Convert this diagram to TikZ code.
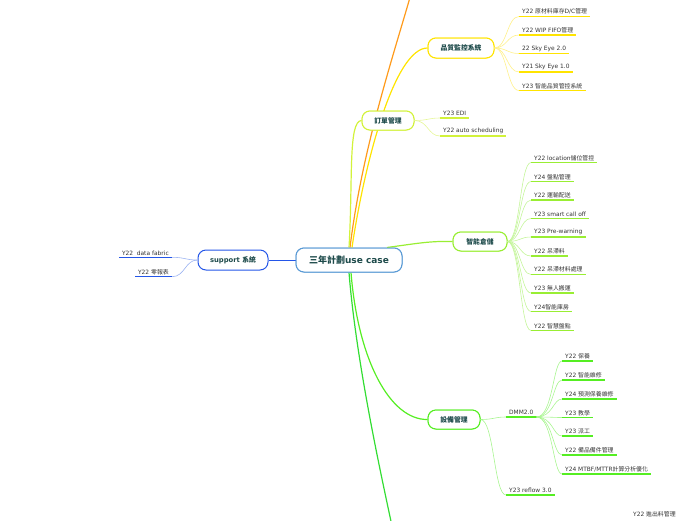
\documentclass[tikz,border=0pt]{standalone}
\usepackage{fontspec}
\setmainfont{DejaVu Sans}
\newfontfamily\cjk{Noto Sans CJK TC}
\newcommand\zh[1]{{\cjk #1}}
\definecolor{corange}{HTML}{FF9A1A}
\definecolor{cyel}{HTML}{FFE400}
\definecolor{cyelL}{HTML}{FFF08A}
\definecolor{cyg}{HTML}{D2F23A}
\definecolor{cygL}{HTML}{E6F79A}
\definecolor{clg}{HTML}{99EE33}
\definecolor{clgL}{HTML}{C4F59A}
\definecolor{cg}{HTML}{55EE22}
\definecolor{cgL}{HTML}{A8F590}
\definecolor{cbg}{HTML}{33DD33}
\definecolor{cblue}{HTML}{2456E8}
\definecolor{cblueL}{HTML}{9DB4F2}
\definecolor{ccen}{HTML}{5B9BD5}
\definecolor{txt}{HTML}{1E4B4B}
\definecolor{leaftxt}{HTML}{333333}
\tikzset{
  bnode/.style={draw, rounded corners=8pt, line width=1pt, fill=white,
    font=\bfseries\fontsize{6.8}{8}\selectfont, text=txt, inner sep=0pt},
  cnode/.style={draw=ccen, rounded corners=8pt, line width=1pt, fill=white, text=txt,
    font=\bfseries\fontsize{9}{11}\selectfont, minimum width=106pt, minimum height=24pt, inner sep=0pt},
  leaf/.style={font=\fontsize{5.9}{7}\selectfont, text=leaftxt, inner xsep=3pt, inner ysep=1.8pt},
  branch/.style={line width=1.2pt},
  twig/.style={line width=0.6pt},
  uline/.style={line width=1.5pt},
}
\begin{document}
\begin{tikzpicture}[x=1pt,y=-1pt]
\useasboundingbox (0,0) rectangle (696,520);

\coordinate (otop) at (411,-6);
\coordinate (gbot) at (392,526);

\node[cnode] (c) at (349,260) {\zh{三年計劃}use case};
\node[bnode, draw=cyel, minimum width=66pt, minimum height=20pt] (q) at (461,48) {\zh{品質監控系統}};
\node[bnode, draw=cyg, minimum width=52pt, minimum height=19pt] (o) at (388,120.5) {\zh{訂單管理}};
\node[bnode, draw=clg, minimum width=54pt, minimum height=19pt] (s) at (480,241.5) {\zh{智能倉儲}};
\node[bnode, draw=cg, minimum width=52pt, minimum height=19pt] (e) at (454,419.5) {\zh{設備管理}};
\node[bnode, draw=cblue, minimum width=70pt, minimum height=20pt] (sp) at (233,260) {support \zh{系統}};

\draw[corange, branch] ([xshift=1pt]c.north) .. controls (362,150) and (392,60) .. (otop);
\draw[cyel, branch] ([xshift=3pt]c.north) .. controls (365,160) and (395,48) .. (q.west);
\draw[cyg, branch] ([xshift=0pt]c.north) .. controls (353,180) and (348,121) .. (o.west);
\draw[clg, branch] ([xshift=38pt]c.north) .. controls (420,243) and (430,241) .. (s.west);
\draw[cg, branch] ([xshift=2pt]c.south) .. controls (358,360) and (390,420) .. (e.west);
\draw[cbg, branch] ([xshift=0pt]c.south) .. controls (356,360) and (380,470) .. (gbot);
\draw[cblue, line width=1pt] (c.west) -- (sp.east);

% nodes again on top of the branch lines
\node[cnode] at (c) {\zh{三年計劃}use case};
\node[bnode, draw=cyel, minimum width=66pt, minimum height=20pt] at (q) {\zh{品質監控系統}};
\node[bnode, draw=cyg, minimum width=52pt, minimum height=19pt] at (o) {\zh{訂單管理}};
\node[bnode, draw=clg, minimum width=54pt, minimum height=19pt] at (s) {\zh{智能倉儲}};
\node[bnode, draw=cg, minimum width=52pt, minimum height=19pt] at (e) {\zh{設備管理}};

% quality leaves
\foreach \y/\t/\n in {16.5/{Y22 \zh{原材料庫存}D/C\zh{管理}}/1,
                      35/{Y22 WIP FIFO\zh{管理}}/2,
                      53.5/{22 Sky Eye 2.0}/3,
                      72/{Y21 Sky Eye 1.0}/4,
                      90.5/{Y23 \zh{智能品質管控系統}}/5}{
  \node[leaf, anchor=south west] (q\n) at (519,\y) {\t};
  \draw[cyelL, twig] (q.east) .. controls (507,48) and (507,\y) .. (q\n.south west);
  \draw[cyel, uline] (q\n.south west) -- (q\n.south east);
}

% order leaves
\foreach \y/\t/\n in {118/{Y23 EDI}/1, 136/{Y22 auto scheduling}/2}{
  \node[leaf, anchor=south west] (o\n) at (440,\y) {\t};
  \draw[cygL, twig] (o.east) .. controls (428,120.5) and (428,\y) .. (o\n.south west);
  \draw[cyg, uline] (o\n.south west) -- (o\n.south east);
}

% warehouse leaves
\foreach \y/\t/\n in {162.5/{Y22 location\zh{儲位管控}}/1,
                      181.5/{Y24 \zh{盤點管理}}/2,
                      200/{Y22 \zh{運輸配送}}/3,
                      218.5/{Y23 smart call off}/4,
                      237/{Y23 Pre-warning}/5,
                      256/{Y22 \zh{呆滯料}}/6,
                      274.5/{Y22 \zh{呆滯材料處理}}/7,
                      293/{Y23 \zh{無人搬運}}/8,
                      311.5/{Y24\zh{智能庫房}}/9,
                      330.5/{Y22 \zh{智慧盤點}}/10}{
  \node[leaf, anchor=south west] (s\n) at (531,\y) {\t};
  \draw[clgL, twig] (s.east) .. controls (520,241.5) and (520,\y) .. (s\n.south west);
  \draw[clg, uline] (s\n.south west) -- (s\n.south east);
}

% equipment
\node[leaf, anchor=south west] (d) at (506,417) {DMM2.0};
\draw[cgL, twig] (e.east) .. controls (494,419.5) and (494,417) .. (d.south west);
\draw[cg, uline] (d.south west) -- (d.south east);
\node[leaf, anchor=south west] (r) at (506,495) {Y23 reflow 3.0};
\draw[cgL, twig] (e.east) .. controls (494,419.5) and (494,495) .. (r.south west);
\draw[cg, uline] (r.south west) -- (r.south east);

\foreach \y/\t/\n in {361/{Y22 \zh{保養}}/1,
                      380/{Y22 \zh{智能維修}}/2,
                      399/{Y24 \zh{預測保養維修}}/3,
                      417.5/{Y23 \zh{教學}}/4,
                      436/{Y23 \zh{派工}}/5,
                      455/{Y22 \zh{備品備件管理}}/6,
                      474/{Y24 MTBF/MTTR\zh{計算分析優化}}/7}{
  \node[leaf, anchor=south west] (d\n) at (562,\y) {\t};
  \draw[cgL, twig] (d.south east) .. controls (553,417) and (553,\y) .. (d\n.south west);
  \draw[cg, uline] (d\n.south west) -- (d\n.south east);
}

% support leaves
\node[leaf, anchor=south east] (p1) at (172,257.3) {Y22\ \ data fabric};
\node[leaf, anchor=south east] (p2) at (172,276.7) {Y22 \zh{零報表}};
\draw[cblueL, twig] (sp.west) .. controls (185,260) and (185,257.3) .. (p1.south east);
\draw[cblueL, twig] (sp.west) .. controls (185,260) and (185,276.7) .. (p2.south east);
\draw[cblue, uline] (p1.south east) -- (p1.south west);
\draw[cblue, uline] (p2.south east) -- (p2.south west);

% bottom right leaf (partly at the edge)
\node[leaf, anchor=north west, inner ysep=0pt] (b1) at (630,511.5) {Y22 \zh{進出料管理}};
\end{tikzpicture}
\end{document}
